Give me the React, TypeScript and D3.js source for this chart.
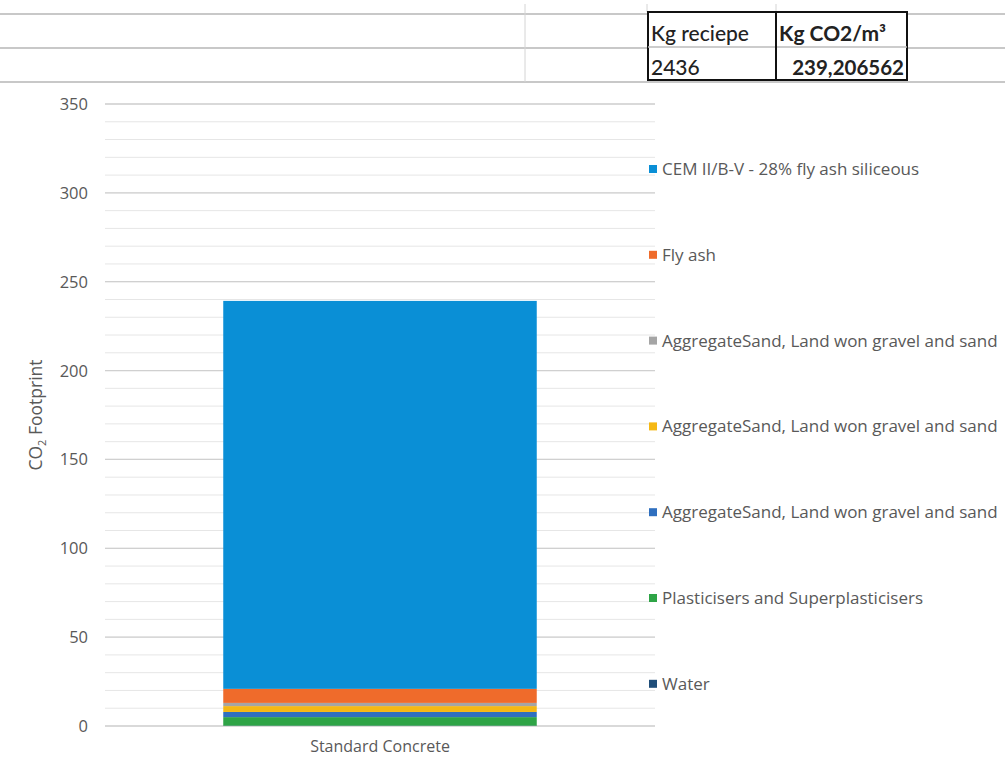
import React from "react";
import * as d3 from "d3";

// Stacked CO2 contributions per component (kg CO2 / m3), bottom to top
const seriesNames = [
  "Water",
  "Plasticisers and Superplasticisers",
  "AggregateSand, Land won gravel and sand",
  "AggregateSand, Land won gravel and sand",
  "AggregateSand, Land won gravel and sand",
  "Fly ash",
  "CEM II/B-V - 28% fly ash siliceous",
];
const seriesValues = [0.2, 4.8, 2.9, 3.3, 1.8, 7.9, 218.306562];
const seriesColors = ["#1f4e79", "#2ea446", "#2f6fbf", "#f5b814", "#a5a5a5", "#ef6b2b", "#0a8fd6"];
const categories = ["Standard Concrete"];
const yTicks = [0, 50, 100, 150, 200, 250, 300, 350];

const tableHeader = ["Kg reciepe", "Kg CO2/m\u00b3"];
const tableRow = ["2436", "239,206562"];

const W = 1005;
const H = 757;
const font = "'Open Sans', 'Liberation Sans', sans-serif";
const tableFont = "Lato, 'Open Sans', sans-serif";
const textColor = "#595959";

export default function App() {
  const plot = { left: 105, right: 655, top: 104, bottom: 726 };
  const y = d3.scaleLinear().domain([0, 350]).range([plot.bottom, plot.top]);
  const x = d3.scaleBand().domain(categories).range([plot.left, plot.right]).paddingInner(0.43).paddingOuter(0.215);

  const minor = d3.range(0, 351, 10);

  // cumulative stacking
  let acc = 0;
  const stacks = seriesValues.map((v, i) => {
    const s = { y0: acc, y1: acc + v, color: seriesColors[i], name: seriesNames[i] };
    acc += v;
    return s;
  });

  const legendTop = 169;
  const legendStep = 85.8;
  const legendItems = seriesNames.map((n, i) => ({ name: n, color: seriesColors[i] })).reverse();

  const cellX = [648, 776, 907];
  const rowY = [12, 47, 80];

  return (
    <svg width={W} height={H} style={{ position: "absolute", left: 0, top: 0, background: "#fff" }} fontFamily={font}>
      <rect x={0} y={0} width={W} height={H} fill="#fff" />
      {/* spreadsheet grid above the chart */}
      {[14, 48, 82].map((gy) => (
        <line key={gy} x1={0} x2={W} y1={gy} y2={gy} stroke="#c8c8c8" strokeWidth={2} />
      ))}
      <line x1={525} x2={525} y1={4} y2={82} stroke="#d4d4d4" strokeWidth={1} />
      <line x1={647} x2={647} y1={4} y2={12} stroke="#d4d4d4" strokeWidth={1} />
      <line x1={776} x2={776} y1={4} y2={12} stroke="#d4d4d4" strokeWidth={1} />
      <rect x={cellX[0]} y={rowY[0]} width={cellX[2] - cellX[0]} height={rowY[2] - rowY[0]} fill="#fff" stroke="#111" strokeWidth={2} />
      <line x1={cellX[0]} x2={cellX[2]} y1={rowY[1]} y2={rowY[1]} stroke="#bbb" strokeWidth={1.5} />
      <line x1={cellX[1]} x2={cellX[1]} y1={rowY[0]} y2={rowY[2]} stroke="#111" strokeWidth={2} />
      <text x={651} y={41} fontSize={21} fill="#222" fontFamily={tableFont} fontWeight={500}>{tableHeader[0]}</text>
      <text x={779} y={41} fontSize={21} fill="#222" fontFamily={tableFont} fontWeight={700}>{tableHeader[1]}</text>
      <text x={651} y={75} fontSize={21} fill="#222" fontFamily={tableFont} fontWeight={500}>{tableRow[0]}</text>
      <text x={904} y={75} fontSize={20.5} fill="#222" fontFamily={tableFont} fontWeight={700} textAnchor="end">{tableRow[1]}</text>

      {/* minor gridlines */}
      {minor.map((v) => (
        <line key={"m" + v} x1={plot.left} x2={plot.right} y1={y(v)} y2={y(v)} stroke="#e6e6e6" strokeWidth={1} />
      ))}
      {/* major gridlines and tick labels */}
      {yTicks.map((v) => (
        <g key={v}>
          <line x1={plot.left} x2={plot.right} y1={y(v)} y2={y(v)} stroke="#d0d0d0" strokeWidth={1.3} />
          <text x={88} y={y(v) + 6} textAnchor="end" fontSize={16.5} fill={textColor}>{v}</text>
        </g>
      ))}

      {/* stacked bar */}
      {stacks.map((s, i) => (
        <rect
          key={i}
          x={x(categories[0])}
          width={x.bandwidth()}
          y={y(s.y1)}
          height={y(s.y0) - y(s.y1)}
          fill={s.color}
        />
      ))}

      <text x={(x(categories[0]) as number) + x.bandwidth() / 2} y={752} textAnchor="middle" fontSize={16} fill={textColor}>
        {categories[0]}
      </text>

      {/* axis title */}
      <text transform={`translate(42,415) rotate(-90)`} textAnchor="middle" fontSize={17.5} fill={textColor}>
        CO<tspan fontSize={11} dy={4}>2</tspan><tspan dy={-4}> Footprint</tspan>
      </text>

      {/* legend */}
      {legendItems.map((it, i) => {
        const ly = legendTop + i * legendStep;
        return (
          <g key={i}>
            <rect x={649} y={ly - 4} width={8} height={8} fill={it.color} />
            <text x={662} y={ly + 6} fontSize={17} fill={textColor}>{it.name}</text>
          </g>
        );
      })}
    </svg>
  );
}
